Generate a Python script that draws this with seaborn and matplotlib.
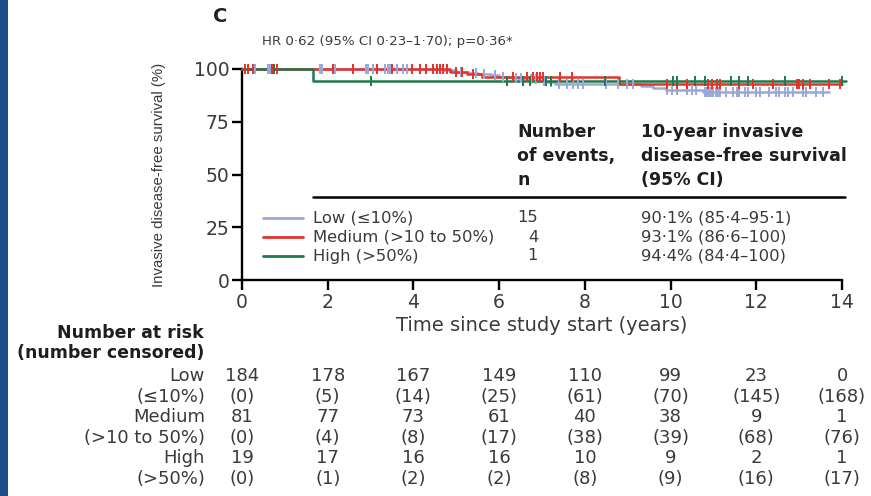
import numpy as np
import pandas as pd
import matplotlib
matplotlib.use("Agg")
import matplotlib.pyplot as plt
import matplotlib.transforms as mtrans
from matplotlib.lines import Line2D
from matplotlib.patches import Rectangle
import seaborn as sns

# ---------------- data ----------------
groups = ["Low (≤10%)", "Medium (>10 to 50%)", "High (>50%)"]
risk_names = ["Low", "Medium", "High"]
risk_sub = ["(≤10%)", "(>10 to 50%)", "(>50%)"]
n_events = ["15", "4", "1"]
surv10 = ["90·1% (85·4–95·1)", "93·1% (86·6–100)", "94·4% (84·4–100)"]
colors = ["#9aa8d6", "#e5322b", "#1e7a4c"]

low_t = [0, 4.7, 5.0, 5.3, 5.5, 5.8, 6.0, 6.3, 6.6, 6.9, 7.1, 7.3, 9.3, 9.6, 9.9, 10.75, 13.7]
low_s = [100, 99.4, 98.8, 98.2, 97.6, 97.0, 96.4, 95.8, 95.1, 94.4, 93.7, 92.9, 91.9, 91.0, 90.1, 88.9, 88.9]
med_t = [0, 4.85, 5.25, 5.6, 8.8, 14.0]
med_s = [100, 98.7, 97.4, 96.2, 93.1, 93.1]
high_t = [0, 1.65, 14.1]
high_s = [100, 94.4, 94.4]

low_cens = [0.3, 0.6, 0.65, 0.7, 1.82, 1.87, 2.17, 2.9, 2.94, 3.06, 3.33, 3.4, 3.45, 3.62,
            3.76, 3.85, 4.15, 4.46, 4.62, 5.1, 5.45, 5.65, 5.9, 6.1, 6.4, 6.5, 6.75, 6.85,
            7.05, 7.2, 7.4, 7.58, 7.72, 7.85, 7.96, 8.5, 8.77, 8.98, 9.13, 9.92, 10.03,
            10.15, 10.38, 10.5, 10.6, 10.8, 10.85, 10.9, 10.95, 11.0, 11.05, 11.1, 11.15,
            11.3, 11.45, 11.55, 11.6, 11.73, 11.8, 12.0, 12.08, 12.3, 12.45, 12.54, 12.67,
            12.74, 12.86, 13.1, 13.17, 13.4, 13.56]
med_cens = [0.07, 0.14, 0.26, 0.7, 0.82, 2.13, 2.6, 3.15, 3.5, 3.97, 4.15, 4.3, 4.46, 4.55,
            4.62, 4.7, 4.78, 5.0, 5.13, 5.4, 6.32, 6.65, 6.8, 6.88, 6.95, 7.02, 7.42, 7.7,
            9.92, 10.15, 10.38, 10.87, 10.97, 11.08, 11.15, 11.6, 11.92, 12.4, 12.95, 13.0,
            13.1, 13.25, 13.7, 13.95]
high_cens = [0.75, 3.0, 6.18, 6.56, 6.72, 7.1, 7.2, 8.47, 10.06, 10.15, 10.57, 10.8, 11.4,
             11.6, 11.8, 12.67, 14.0]

risk_times = [0, 2, 4, 6, 8, 10, 12, 14]
risk_low = [184, 178, 167, 149, 110, 99, 23, 0]
cens_low = [0, 5, 14, 25, 61, 70, 145, 168]
risk_med = [81, 77, 73, 61, 40, 38, 9, 1]
cens_med = [0, 4, 8, 17, 38, 39, 68, 76]
risk_high = [19, 17, 16, 16, 10, 9, 2, 1]
cens_high = [0, 1, 2, 2, 8, 9, 16, 17]

# ---------------- style ----------------
sns.set_style("ticks")
plt.rcParams["font.family"] = ["DejaVu Sans"]
TXT = "#3a3a3a"

W, H = 871, 496
fig = plt.figure(figsize=(W / 100, H / 100), dpi=100)
fig.patch.set_facecolor("white")

def fx(px):
    return px / W

def fy(py):
    return 1 - py / H

ax = fig.add_axes([fx(242), fy(280), fx(842) - fx(242), fy(69) - fy(280)])

curves = pd.concat([
    pd.DataFrame({"t": low_t, "s": low_s, "g": groups[0]}),
    pd.DataFrame({"t": med_t, "s": med_s, "g": groups[1]}),
    pd.DataFrame({"t": high_t, "s": high_s, "g": groups[2]}),
], ignore_index=True)

def surv_at(ts, ss, cens):
    idx = np.searchsorted(np.array(ts), np.array(cens), side="right") - 1
    return np.array(ss)[idx]

cens = pd.concat([
    pd.DataFrame({"t": low_cens, "s": surv_at(low_t, low_s, low_cens), "g": groups[0]}),
    pd.DataFrame({"t": med_cens, "s": surv_at(med_t, med_s, med_cens), "g": groups[1]}),
    pd.DataFrame({"t": high_cens, "s": surv_at(high_t, high_s, high_cens), "g": groups[2]}),
], ignore_index=True)

pal = dict(zip(groups, colors))
for g in groups:
    sub = curves[curves["g"] == g]
    sns.lineplot(data=sub, x="t", y="s", color=pal[g], drawstyle="steps-post",
                 estimator=None, sort=False, lw=1.8, ax=ax, legend=False, clip_on=False,
                 zorder=3)
    csub = cens[cens["g"] == g]
    sns.scatterplot(data=csub, x="t", y="s", color=pal[g], marker="|", s=50,
                    linewidth=1.4, ax=ax, legend=False, clip_on=False, zorder=4)

ax.set_xlim(0, 14)
ax.set_ylim(0, 100)
ax.set_xticks(risk_times)
ax.set_yticks([0, 25, 50, 75, 100])
sns.despine(ax=ax)
for sp in ["left", "bottom"]:
    ax.spines[sp].set_linewidth(1.7)
    ax.spines[sp].set_color("black")
ax.tick_params(axis="both", length=7, width=1.7, color="black", labelsize=13.5,
               labelcolor=TXT, direction="out", pad=2)
ax.set_xlabel("Time since study start (years)", fontsize=14, color=TXT, labelpad=3)
ax.set_ylabel("Invasive disease-free survival (%)", fontsize=10.8, color=TXT,
              family=["Liberation Sans", "DejaVu Sans"])
ax.yaxis.set_label_coords(-0.127, 0.5)

# title and HR
fig.text(fx(220), fy(17), "C", fontsize=14, fontweight="bold", color="#222222",
         ha="center", va="center")
fig.text(fx(262), fy(42), "HR 0·62 (95% CI 0·23–1·70); p=0·36*", fontsize=9.6,
         color=TXT, ha="left", va="center")

# legend table header
hdr1 = ["Number", "of events,", "n"]
hdr2 = ["10-year invasive", "disease-free survival", "(95% CI)"]
for i, yy in enumerate([132, 156, 180]):
    fig.text(fx(517), fy(yy), hdr1[i], fontsize=12.5, fontweight="bold", color="#1e1e1e",
             ha="left", va="center")
    fig.text(fx(641), fy(yy), hdr2[i], fontsize=12.5, fontweight="bold", color="#1e1e1e",
             ha="left", va="center")
fig.add_artist(Line2D([fx(313), fx(845)], [fy(197), fy(197)], color="black", lw=1.8))

for i, yy in enumerate([218, 237, 256]):
    fig.add_artist(Line2D([fx(263), fx(303)], [fy(yy), fy(yy)], color=colors[i], lw=2))
    fig.text(fx(313), fy(yy), groups[i], fontsize=11.8, color=TXT, ha="left", va="center")
    fig.text(fx(538), fy(yy), n_events[i], fontsize=11.8, color=TXT, ha="right", va="center")
    fig.text(fx(641), fy(yy), surv10[i], fontsize=11.8, color=TXT, ha="left", va="center")

# number at risk table
fig.text(fx(204), fy(333), "Number at risk", fontsize=12.5, fontweight="bold",
         color="#1e1e1e", ha="right", va="center")
fig.text(fx(204), fy(353), "(number censored)", fontsize=12.5, fontweight="bold",
         color="#1e1e1e", ha="right", va="center")

trans = mtrans.blended_transform_factory(ax.transData, fig.transFigure)
rows = [(risk_names[0], risk_low, False), (risk_sub[0], cens_low, True),
        (risk_names[1], risk_med, False), (risk_sub[1], cens_med, True),
        (risk_names[2], risk_high, False), (risk_sub[2], cens_high, True)]
row_y = [376, 397, 417, 438, 458, 479]
for (lab, vals, paren), yy in zip(rows, row_y):
    fig.text(fx(205), fy(yy), lab, fontsize=13, color=TXT, ha="right", va="center")
    for t, v in zip(risk_times, vals):
        s = f"({v})" if paren else f"{v}"
        fig.text(t, fy(yy), s, fontsize=13, color=TXT, ha="center", va="center",
                 transform=trans)

# left blue strip
fig.add_artist(Rectangle((0, 0), fx(8), 1, transform=fig.transFigure,
                         facecolor="#1f4b86", edgecolor="none", zorder=10))

fig.savefig("out.png", dpi=100)
